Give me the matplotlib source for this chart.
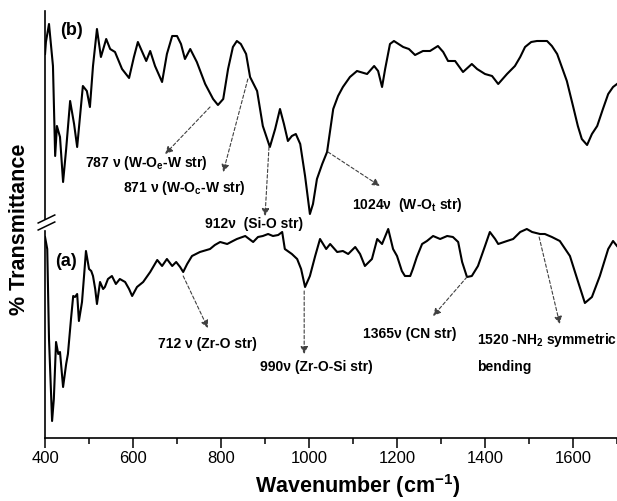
import matplotlib
matplotlib.use('Agg')
import matplotlib.pyplot as plt
from matplotlib.ticker import MultipleLocator
import matplotlib.transforms as mtransforms

plt.rcParams['font.family'] = ['Liberation Sans', 'DejaVu Sans']
plt.rcParams['mathtext.fontset'] = 'custom'
plt.rcParams['mathtext.rm'] = 'Liberation Sans'
plt.rcParams['mathtext.bf'] = 'Liberation Sans:bold'
plt.rcParams['mathtext.it'] = 'Liberation Sans:italic'

# spectrum (b), arbitrary transmittance units
wn_b = [400, 402, 409, 418, 423, 427, 434, 441, 448, 457, 466, 473, 480, 486, 495,
        502, 509, 518, 527, 539, 548, 559, 575, 591, 602, 611, 620, 630, 639, 650,
        666, 677, 689, 700, 709, 718, 730, 745, 764, 782, 793, 805, 816, 827, 836,
        845, 857, 866, 882, 895, 911, 923, 934, 943, 952, 961, 970, 980, 991, 1002,
        1009, 1018, 1030, 1041, 1055, 1066, 1077, 1093, 1109, 1132, 1148, 1157, 1166, 1173, 1184,
        1193, 1214, 1227, 1241, 1259, 1275, 1293, 1305, 1316, 1332, 1350, 1370, 1382, 1400, 1416,
        1430, 1450, 1468, 1480, 1491, 1505, 1518, 1541, 1552, 1564, 1586, 1600, 1611, 1620, 1632,
        1643, 1655, 1668, 1680, 1691, 1700]
t_b = [38.4, 39.6, 41.4, 37.2, 28.2, 31.2, 30.1, 25.6, 28.9, 33.7, 31.4, 29.1, 32.4, 35.2, 34.7,
       33.1, 37.2, 40.9, 38.1, 39.9, 38.9, 38.6, 36.9, 36.0, 38.1, 39.6, 38.7, 37.7, 38.7, 37.2,
       35.6, 38.4, 40.2, 40.2, 39.4, 37.9, 38.9, 37.6, 35.4, 33.9, 33.3, 33.9, 36.9, 39.1, 39.7,
       39.4, 38.4, 36.1, 34.7, 31.2, 29.1, 30.9, 32.9, 31.4, 29.7, 30.2, 30.4, 29.4, 26.2, 22.4,
       23.4, 25.9, 27.4, 28.6, 32.9, 34.2, 35.1, 36.1, 36.7, 36.4, 37.2, 36.7, 35.1, 36.9, 39.4,
       39.7, 39.1, 38.9, 38.3, 38.7, 38.7, 39.2, 38.6, 37.7, 37.7, 36.6, 37.4, 36.9, 36.4, 36.2,
       35.4, 36.4, 37.2, 38.1, 39.1, 39.6, 39.7, 39.7, 39.2, 38.4, 35.7, 33.2, 31.2, 29.9, 29.3,
       30.4, 31.2, 32.9, 34.4, 35.1, 35.4]

# spectrum (a)
wn_a = [400, 405, 409, 416, 420, 425, 430, 434, 441, 448, 452, 459, 464, 468, 473,
        477, 484, 489, 493, 500, 505, 509, 514, 518, 525, 532, 536, 543, 552, 561,
        570, 582, 591, 598, 609, 623, 639, 655, 666, 677, 689, 698, 707, 714, 723,
        734, 752, 775, 786, 798, 814, 827, 836, 855, 873, 884, 895, 907, 918, 930,
        939, 945, 961, 973, 982, 991, 1002, 1014, 1025, 1039, 1048, 1064, 1077, 1089, 1105,
        1116, 1127, 1143, 1155, 1166, 1180, 1191, 1200, 1211, 1218, 1230, 1236, 1245, 1257, 1268,
        1282, 1298, 1314, 1327, 1339, 1348, 1359, 1370, 1384, 1400, 1411, 1423, 1430, 1450, 1464,
        1480, 1495, 1507, 1525, 1536, 1552, 1570, 1593, 1611, 1627, 1643, 1661, 1680, 1691, 1700]
t_a = [20.1, 18.9, 9.9, 1.7, 3.9, 9.6, 8.4, 8.6, 5.1, 7.4, 8.4, 11.9, 14.2, 14.1, 14.4,
       11.7, 13.6, 16.4, 18.7, 16.9, 16.7, 16.2, 14.9, 13.4, 15.6, 14.9, 15.1, 15.9, 16.2, 15.4,
       15.9, 15.6, 14.9, 14.2, 15.1, 15.6, 16.6, 17.8, 17.2, 17.9, 17.2, 17.6, 17.1, 16.6, 17.4,
       18.2, 18.6, 18.9, 19.3, 19.6, 19.4, 19.7, 19.9, 20.2, 19.6, 20.1, 20.2, 20.4, 20.2, 20.3,
       20.6, 18.9, 18.4, 17.9, 16.9, 15.1, 16.2, 18.2, 19.9, 18.9, 19.4, 18.6, 18.7, 18.4, 19.1,
       18.4, 17.2, 17.9, 19.9, 19.4, 20.9, 18.9, 18.2, 16.7, 16.2, 16.2, 16.9, 18.1, 19.4, 19.7,
       20.2, 19.9, 20.2, 20.1, 19.6, 17.6, 16.1, 16.2, 17.2, 19.2, 20.6, 19.9, 19.4, 19.7, 19.9,
       20.6, 20.9, 20.6, 20.4, 20.4, 20.1, 19.7, 18.2, 15.7, 13.5, 14.1, 16.2, 18.9, 19.7, 19.2]

# band labels: text, arrow start (on curve), arrow tip, text anchor (left, centre)
bands = [
    ("787 \u03bd (W-O$_\\mathbf{e}$-W str)", (775, 33.1), (673, 28.4), (491, 27.6)),
    ("871 \u03bd (W-O$_\\mathbf{c}$-W str)", (861, 35.9), (805, 26.6), (577, 25.1)),
    ("912\u03bd  (Si-O str)", (909, 29.1), (900, 22.2), (764, 21.5)),
    ("1024\u03bd  (W-O$_\\mathbf{t}$ str)", (1043, 28.6), (1161, 25.2), (1098, 23.4)),
    ("712 \u03bd (Zr-O str)", (714, 16.2), (770, 11.0), (657, 9.5)),
    ("990\u03bd (Zr-O-Si str)", (989, 14.7), (989, 8.4), (889, 7.2)),
    ("1365\u03bd (CN str)", (1359, 16.1), (1282, 12.2), (1123, 10.5)),
    ("1520 -NH$_\\mathbf{2}$ symmetric", (1523, 20.1), (1570, 11.4), (1382, 9.9)),
]

fig = plt.figure(figsize=(6.17, 5.02), dpi=100)
ax = fig.add_axes([0.073, 0.1255, 0.927, 0.8506])

ax.plot(wn_b, t_b, color='black', lw=1.5, solid_joinstyle='round')
ax.plot(wn_a, t_a, color='black', lw=1.5, solid_joinstyle='round')

ax.set_xlim(400, 1700)
ax.set_ylim(0, 42.7)

for s in ['top', 'right', 'left']:
    ax.spines[s].set_visible(False)
ax.spines['bottom'].set_linewidth(1.2)
ax.set_yticks([])

ax.xaxis.set_major_locator(MultipleLocator(200))
ax.xaxis.set_minor_locator(MultipleLocator(100))
ax.tick_params(axis='x', which='major', direction='out', length=7, width=1.1,
               labelsize=12, pad=2)
ax.tick_params(axis='x', which='minor', direction='out', length=4, width=1.1)

# broken left axis
tr = mtransforms.blended_transform_factory(ax.transAxes, ax.transData)
ax.plot([0, 0], [0, 20.7], transform=tr, color='black', lw=1.2, clip_on=False)
ax.plot([0, 0], [21.9, 42.7], transform=tr, color='black', lw=1.2, clip_on=False)
for yc in [21.9, 21.2]:
    ax.plot([-0.012, 0.017], [yc - 0.4, yc + 0.4], transform=tr, color='black',
            lw=1.1, clip_on=False)

ax.set_xlabel('Wavenumber (cm$^{\\mathbf{-1}}$)', fontsize=15.5, fontweight='bold')
ax.xaxis.set_label_coords(0.546, -0.077)
ax.set_ylabel('% Transmittance', fontsize=15.5, fontweight='bold')
ax.yaxis.set_label_coords(-0.026, 0.49)

ax.text(434, 40.8, '(b)', fontsize=13, fontweight='bold', va='center')
ax.text(423, 17.7, '(a)', fontsize=13, fontweight='bold', va='center')

for label, start, tip, pos in bands:
    ax.annotate('', xy=tip, xytext=start,
                arrowprops=dict(arrowstyle='-|>', linestyle=(0, (3, 2)), color='0.25',
                                lw=0.8, mutation_scale=11, shrinkA=0, shrinkB=0))
    ax.text(pos[0], pos[1], label, fontsize=10, fontweight='bold', va='center', ha='left')
ax.text(1382, 7.2, 'bending', fontsize=10, fontweight='bold', va='center', ha='left')

fig.savefig('out.png', dpi=100)
